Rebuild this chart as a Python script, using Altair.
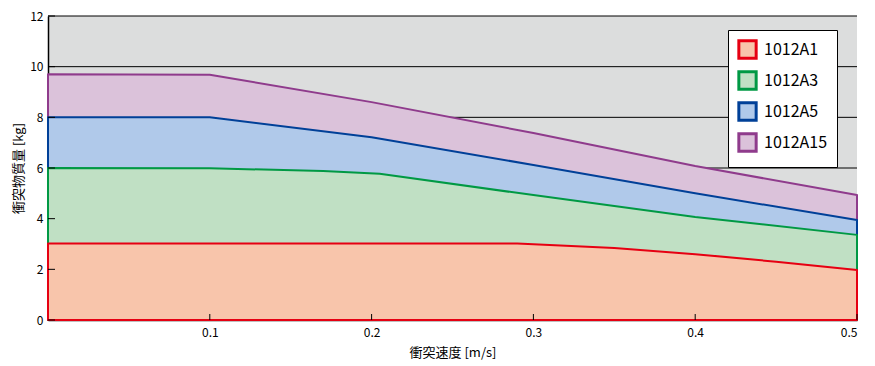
import altair as alt
import pandas as pd

series = ["1012A1", "1012A3", "1012A5", "1012A15"]
# boundary of each band (kg) vs collision speed (m/s)
a1_x = [0.0, 0.1, 0.2, 0.29, 0.35, 0.4, 0.45, 0.5]
a1_y = [3.02, 3.02, 3.02, 3.02, 2.84, 2.6, 2.3, 1.97]
a3_x = [0.0, 0.1, 0.17, 0.205, 0.3, 0.4, 0.5]
a3_y = [6.0, 5.99, 5.88, 5.77, 4.93, 4.07, 3.36]
a5_x = [0.0, 0.1, 0.2, 0.3, 0.4, 0.5]
a5_y = [8.0, 8.0, 7.21, 6.12, 5.0, 3.95]
a15_x = [0.0, 0.1, 0.2, 0.3, 0.4, 0.5]
a15_y = [9.7, 9.68, 8.6, 7.38, 6.08, 4.93]
fills = ["#f8c5ab", "#c0e0c4", "#b0c9ea", "#dbc2da"]
strokes = ["#e60012", "#009944", "#004098", "#8f3b8c"]
x_ticks = [0.1, 0.2, 0.3, 0.4, 0.5]
y_ticks = [0, 2, 4, 6, 8, 10, 12]

pairs = {"1012A1": (a1_x, a1_y), "1012A3": (a3_x, a3_y),
         "1012A5": (a5_x, a5_y), "1012A15": (a15_x, a15_y)}
rows = []
for s in series:
    xs_, ys_ = pairs[s]
    for x, y in zip(xs_, ys_):
        rows.append({"speed": x, "series": s, "mass": y})
df = pd.DataFrame(rows)

W, H = 809, 304
FONT = "Noto Sans CJK JP"

xs = alt.Scale(domain=[0, 0.5], nice=False)
ys = alt.Scale(domain=[0, 12], nice=False)

grid = alt.Chart(pd.DataFrame({"y": y_ticks})).mark_rule(color="black", strokeWidth=1).encode(
    y=alt.Y("y:Q", scale=ys)
)

areas = []
for s in reversed(series):
    areas.append(
        alt.Chart(df[df.series == s]).mark_area(
            interpolate="linear", strokeWidth=2, strokeJoin="round"
        ).encode(
            x=alt.X("speed:Q", scale=xs, title="衝突速度 [m/s]",
                    axis=alt.Axis(values=x_ticks, format=".1f", ticks=False, grid=False,
                                  domainColor="black", labelPadding=7, titlePadding=8)),
            y=alt.Y("mass:Q", scale=ys, title="衝突物質量 [kg]",
                    axis=alt.Axis(values=y_ticks, ticks=False, grid=False,
                                  domainColor="black", labelPadding=5, titlePadding=4)),
            y2=alt.datum(0),
            fill=alt.Fill("series:N", scale=alt.Scale(domain=series, range=fills),
                          sort=series, title=None),
            stroke=alt.Stroke("series:N", scale=alt.Scale(domain=series, range=strokes),
                              sort=series, title=None),
        )
    )

xtick = alt.Chart(pd.DataFrame({"x": x_ticks})).mark_rule(color="black").encode(
    x=alt.X("x:Q", scale=xs), y=alt.value(H), y2=alt.value(H - 6)
)
ytick = alt.Chart(pd.DataFrame({"y": y_ticks})).mark_rule(color="black").encode(
    y=alt.Y("y:Q", scale=ys), x=alt.value(0), x2=alt.value(7)
)

chart = alt.layer(grid, *areas, xtick, ytick).properties(
    width=W, height=H,
    autosize=alt.AutoSizeParams(type="none"),
    padding={"left": 40, "top": 8, "right": 10, "bottom": 46},
).configure_view(
    fill="#dcdddd", stroke=None
).configure_axis(
    labelFont=FONT, titleFont=FONT, labelFontSize=12, titleFontSize=13,
    labelColor="black", titleColor="black", titleFontWeight="normal", domainWidth=1.5,
).configure_legend(
    orient="none", legendX=680, legendY=14, fillColor="white", strokeColor="black",
    padding=9, symbolType="square", symbolSize=300, symbolStrokeWidth=3,
    labelFont=FONT, labelFontSize=16, labelColor="black", rowPadding=0,
    labelOffset=6, cornerRadius=0,
)

chart.save("out.html", embed_options={"renderer": "svg", "actions": False})
